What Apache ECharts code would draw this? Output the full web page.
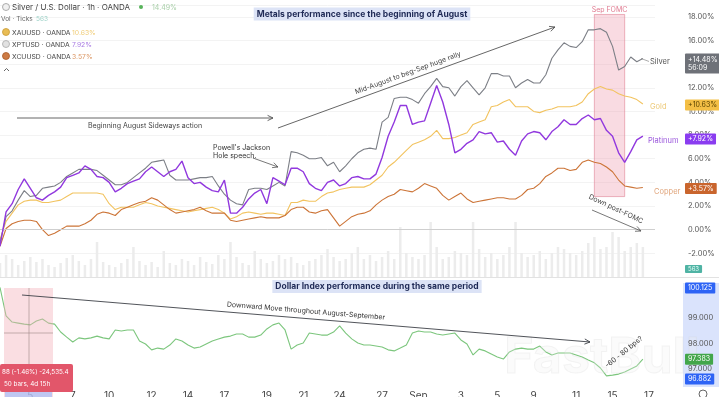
<!DOCTYPE html>
<html><head><meta charset="utf-8">
<script src="https://cdn.jsdelivr.net/npm/echarts@6/dist/echarts.min.js"></script>
<style>html,body{margin:0;padding:0;background:#fff}#c{width:719px;height:397px}</style>
</head><body><div id="c"></div>
<script>
// ---------- data ----------
const N = 109;
const categories = Array.from({length: N}, (_, i) => 'h' + i);
const tickLabels = ['5','7','10','12','14','17','19','21','24','27','Sep','3','5','9','11','15','17'];

const silver = [-1.1,1.1,1.6,2.5,3.3,2.8,2.9,3.5,3.6,3.7,
 4.0,4.5,4.8,5.1,5.1,5.1,5.0,4.6,4.2,3.8,
 3.8,4.0,4.4,4.8,5.2,5.7,5.8,5.9,4.6,4.2,
 4.2,4.2,4.3,4.4,4.4,4.5,3.7,3.0,2.5,2.2,
 2.1,3.4,3.5,3.5,3.4,3.7,4.0,3.7,6.6,6.5,
 6.3,6.0,6.0,6.1,5.4,5.7,4.9,5.4,6.0,6.5,
 6.8,6.9,6.8,9.1,9.5,11.1,11.2,11.2,11.0,10.7,
 11.5,12.1,12.8,12.1,12.0,11.3,12.1,12.6,12.0,11.4,
 12.0,13.2,13.2,13.0,13.0,12.0,12.4,12.7,12.4,12.4,
 13.1,14.5,15.2,15.8,15.5,15.4,15.9,16.9,16.9,17.0,
 16.7,15.5,13.5,13.8,14.6,14.2,14.48];

const platinum = [-1.4,1.5,2.2,3.4,4.3,3.5,2.7,2.5,2.9,3.2,
 3.6,4.4,4.6,4.8,5.4,5.1,4.5,4.4,4.0,3.2,
 3.5,3.9,4.1,4.3,4.9,5.3,4.9,4.5,4.9,5.1,
 5.8,4.4,3.9,4.0,3.6,3.3,3.2,4.2,1.4,1.4,
 1.9,2.6,3.1,3.4,2.2,4.4,4.1,3.8,5.2,5.2,
 4.9,3.9,3.5,3.3,4.0,4.2,3.7,3.9,4.4,4.5,
 4.3,4.3,4.7,6.1,7.9,9.1,10.5,10.5,8.9,9.1,
 9.2,10.7,12.2,10.8,8.9,6.5,6.8,7.3,7.6,8.3,
 8.1,8.2,7.4,7.5,6.8,6.3,7.5,8.1,8.3,8.2,
 7.6,8.3,8.7,9.3,8.9,8.9,9.4,9.7,9.3,9.4,
 8.4,7.9,6.5,5.7,6.6,7.6,7.92];

const gold = [-0.8,0.7,1.4,2.1,2.4,2.5,2.5,2.3,2.3,2.4,
 2.5,2.8,3.1,3.1,3.1,3.1,3.1,3.0,2.2,1.7,
 1.9,1.9,1.9,2.1,2.3,2.2,2.0,1.9,1.8,1.7,
 1.6,1.5,1.6,1.7,1.8,1.9,1.7,1.4,0.9,1.1,
 1.4,1.5,1.4,1.3,1.4,1.4,1.3,1.2,2.3,2.3,
 2.5,2.4,2.4,2.8,3.1,3.2,3.4,3.5,3.6,3.6,
 3.6,3.8,4.2,4.6,5.3,5.7,6.2,6.7,7.2,7.4,
 7.6,7.9,8.4,7.7,7.7,7.8,8.0,8.2,8.9,9.1,
 9.3,10.4,10.5,10.8,11.0,10.4,10.4,10.4,10.0,9.9,
 10.1,10.2,10.4,10.4,10.4,10.5,10.8,11.5,11.9,12.1,
 11.9,11.8,11.5,11.3,11.2,11.0,10.63];

const copper = [-1.4,0.1,0.5,0.7,0.8,0.8,0.7,0.0,-0.5,-0.3,
 0.0,0.3,0.3,0.3,0.5,0.8,1.3,1.5,1.4,1.2,
 1.7,1.9,2.1,2.3,2.4,2.7,2.5,2.1,1.7,1.4,
 1.5,1.6,1.7,1.9,1.6,1.4,1.4,1.4,0.8,0.7,
 0.8,0.9,1.0,1.1,1.0,1.0,1.0,1.2,1.7,1.9,
 1.9,1.5,1.4,1.6,1.7,1.0,0.3,0.7,1.1,1.3,
 1.4,1.6,2.1,2.5,2.8,3.0,3.4,3.3,3.2,3.5,
 3.9,3.7,3.5,2.9,2.5,2.8,3.1,2.6,2.3,2.4,
 2.5,2.6,2.7,2.7,2.6,2.6,2.9,3.4,3.5,3.9,
 4.5,4.8,5.2,5.2,5.0,5.1,5.7,5.9,5.7,5.6,
 5.3,4.9,4.2,3.7,3.6,3.5,3.57];

const volume = [14,22,18,12,16,20,15,18,12,10,
 14,19,22,16,12,18,35,15,12,10,
 14,18,30,16,12,15,10,26,14,12,
 18,16,12,20,15,13,22,18,35,20,
 14,12,26,18,14,16,22,18,20,14,
 12,16,18,22,28,20,16,18,24,30,
 18,22,16,20,26,18,50,24,20,18,
 22,55,30,18,20,26,24,22,55,28,
 20,24,18,22,30,55,24,20,22,26,
 18,24,30,28,24,22,26,34,40,28,
 30,45,40,26,30,34,30];

const dxy = [100.2,99.08,98.84,98.80,98.76,98.73,98.88,98.96,98.80,98.76,
 98.45,98.25,98.06,98.22,98.18,98.22,98.29,98.22,98.18,98.53,
 98.49,98.53,98.53,98.10,97.98,97.75,97.82,97.78,97.94,98.18,
 98.10,97.94,97.82,97.86,97.98,98.10,98.18,98.25,98.29,98.37,
 98.37,98.25,98.25,98.33,98.57,98.73,98.80,98.53,97.78,97.94,
 98.02,98.41,98.37,98.33,98.33,98.45,98.69,98.41,98.18,98.02,
 97.94,97.94,97.90,97.86,97.75,97.71,97.82,97.94,98.41,98.49,
 98.45,98.45,98.37,98.33,98.37,98.41,98.14,97.98,97.55,97.78,
 97.71,97.59,97.47,97.39,97.67,97.78,97.82,97.78,97.78,97.90,
 97.67,97.55,97.63,97.63,97.63,97.55,97.47,97.35,97.24,97.04,
 96.73,96.76,96.80,96.88,97.00,97.12,97.383];

const dxyTicks = [97, 98, 99];
const lastPct = ['+14.48%','+10.63%','+7.92%','+3.57%'];
const fomcRange = ['h98','h103'];

// ---------- chart ----------
const FONT = 'Inter, Roboto, "Noto Sans", sans-serif';
const labelAt = {};
tickLabels.forEach((t, k) => { labelAt[Math.round(5.4 + k * 6.38)] = t; });

const chart = echarts.init(document.getElementById('c'));
const C = {silver:'#7c7f86', gold:'#f2c35f', platinum:'#9138de', copper:'#cc7437', dxy:'#7cc67d'};

chart.setOption({
  animation: false,
  backgroundColor: '#fff',
  grid: [{left:0, right:64, top:5, bottom:120, outerBoundsMode:'none', containLabel:false},
         {left:0, right:64, top:280, bottom:11, outerBoundsMode:'none', containLabel:false}],
  xAxis: [
    {type:'category', gridIndex:0, data:categories, boundaryGap:false,
     axisLine:{show:false}, axisTick:{show:false}, axisLabel:{show:false}, splitLine:{show:false}},
    {type:'category', gridIndex:1, data:categories, boundaryGap:false,
     axisLine:{show:false}, axisTick:{show:false}, splitLine:{show:false},
     axisLabel:{interval:(i)=>labelAt[i]!==undefined, formatter:(v,i)=>labelAt[i]||'',
       color:'#444', fontSize:10, margin:5, fontFamily:FONT}}
  ],
  yAxis: [
    {type:'value', gridIndex:0, position:'right', min:-4, max:19, interval:2,
     axisLine:{show:false}, axisTick:{show:false},
     axisLabel:{margin:33, color:'#555', fontSize:7.5, fontFamily:FONT,
       formatter:v => (v>=-2 && v<=18 && v%2===0) ? v.toFixed(2)+'%' : ''},
     splitLine:{lineStyle:{color:'#f3f3f3', width:1}}},
    {type:'value', gridIndex:0, min:0, max:272, show:false},
    {type:'value', gridIndex:1, position:'right', min:96.333, max:100.49,
     axisLine:{show:false}, axisTick:{show:false}, splitLine:{show:false},
     axisLabel:{show:false}}
  ],
  series: [
    {type:'bar', xAxisIndex:0, yAxisIndex:1, data:volume, barWidth:2.5, silent:true,
     itemStyle:{color:'#ececec'}, z:1},
    {name:'Gold', type:'line', xAxisIndex:0, yAxisIndex:0, data:gold, showSymbol:false,
     lineStyle:{color:C.gold, width:1.1}, z:3},
    {name:'Copper', type:'line', xAxisIndex:0, yAxisIndex:0, data:copper, showSymbol:false,
     lineStyle:{color:C.copper, width:1.1}, z:3},
    {name:'Silver', type:'line', xAxisIndex:0, yAxisIndex:0, data:silver, showSymbol:false,
     lineStyle:{color:C.silver, width:1.1}, z:4,
     markLine:{silent:true, symbol:'none', label:{show:false},
       lineStyle:{color:'#cfcfcf', width:1, type:'solid'}, data:[{yAxis:0}]},
     markArea:{silent:true,
       itemStyle:{color:'rgba(238,160,178,0.38)', borderColor:'rgba(220,120,140,0.55)', borderWidth:1},
       label:{show:true, position:'top', distance:1, color:'#e07a90', fontSize:7, fontFamily:FONT},
       data:[[{name:'Sep FOMC', xAxis:fomcRange[0], yAxis:2.8}, {xAxis:fomcRange[1], yAxis:18.2}]]}},
    {name:'Platinum', type:'line', xAxisIndex:0, yAxisIndex:0, data:platinum, showSymbol:false,
     lineStyle:{color:C.platinum, width:1.4}, z:5},
    {name:'DXY', type:'line', xAxisIndex:1, yAxisIndex:2, data:dxy, showSymbol:false,
     lineStyle:{color:C.dxy, width:1.1}, z:3}
  ]
});

// ---------- annotations ----------
const g = [];
function txt(x, y, text, opt, z) {
  g.push({type:'text', x, y, silent:true, z:z||100,
    style:Object.assign({text, font:'8px '+FONT, fill:'#555', verticalAlign:'middle', align:'left'}, opt||{})});
}
function rtxt(x, y, text, rot, opt) {
  g.push({type:'text', x, y, rotation:rot, silent:true, z:100,
    style:Object.assign({text, font:'7px '+FONT, fill:'#333', verticalAlign:'middle', align:'center'}, opt||{})});
}
function line(x1, y1, x2, y2, color, w) {
  g.push({type:'line', silent:true, z:90, shape:{x1, y1, x2, y2}, style:{stroke:color, lineWidth:w||1}});
}
function arrow(x1, y1, x2, y2, color, w) {
  line(x1, y1, x2, y2, color, w);
  const a = Math.atan2(y2-y1, x2-x1), L = 6, s = 0.45;
  g.push({type:'polyline', silent:true, z:90,
    shape:{points:[[x2-L*Math.cos(a-s), y2-L*Math.sin(a-s)], [x2, y2], [x2-L*Math.cos(a+s), y2-L*Math.sin(a+s)]]},
    style:{stroke:color, lineWidth:w||1, fill:null}});
}
function rect(x, y, w, h, fill, z) {
  g.push({type:'rect', silent:true, z:z||50, shape:{x, y, width:w, height:h}, style:{fill}});
}
function circ(cx, cy, r, fill, stroke) {
  g.push({type:'circle', silent:true, z:100, shape:{cx, cy, r}, style:{fill, stroke:stroke||null, lineWidth:0.8}});
}
function box(x, yc, text, bg, fg, opt) {
  g.push({type:'text', x, y:yc, silent:true, z:110,
    style:Object.assign({text, font:'7px '+FONT, fill:fg, backgroundColor:bg, padding:[2,3,2,3],
      verticalAlign:'middle', align:'left', borderRadius:1}, opt||{})});
}

// header legend
circ(6, 7, 3.5, '#f0f0f0', '#999');
txt(12, 7.5, 'Silver / U.S. Dollar · 1h · OANDA', {fill:'#444', font:'8px '+FONT});
circ(141, 7, 2, '#57b35a');
txt(152, 7.5, '14.49%', {fill:'#a9cfa9', font:'7px '+FONT});
txt(1, 19.5, 'Vol · Ticks', {fill:'#666', font:'6.5px '+FONT});
txt(36, 19.5, '563', {fill:'#9fd3c9', font:'6.5px '+FONT});
circ(6, 32, 3.5, '#e9bd55', '#c99a35');
txt(12, 32.5, 'XAUUSD · OANDA', {fill:'#444', font:'6.8px '+FONT});
txt(72, 32.5, '10.63%', {fill:'#f0cd78', font:'6.8px '+FONT});
circ(6, 44, 3.5, '#e2e2e2', '#aaa');
txt(12, 44.5, 'XPTUSD · OANDA', {fill:'#444', font:'6.8px '+FONT});
txt(72, 44.5, '7.92%', {fill:'#a97be3', font:'6.8px '+FONT});
circ(6, 56, 3.5, '#cd7b45', '#a85a28');
txt(12, 56.5, 'XCUUSD · OANDA', {fill:'#444', font:'6.8px '+FONT});
txt(72, 56.5, '3.57%', {fill:'#dc9866', font:'6.8px '+FONT});
g.push({type:'polyline', silent:true, z:100, shape:{points:[[4,71],[6.5,68.5],[9,71]]}, style:{stroke:'#666', lineWidth:1, fill:null}});

// titles
txt(362, 14, 'Metals performance since the beginning of August',
  {align:'center', font:'bold 8.5px '+FONT, fill:'#1f2a56', backgroundColor:'#dce3f6', padding:[2,3,2,3]});
txt(377, 286.5, 'Dollar Index performance during the same period',
  {align:'center', font:'bold 8.5px '+FONT, fill:'#1f2a56', backgroundColor:'#dce3f6', padding:[2,3,2,3]});

// top annotations
arrow(17, 118, 273, 118, '#555', 0.9);
txt(145, 126, 'Beginning August Sideways action', {align:'center', font:'7px '+FONT, fill:'#444'});
arrow(278, 128, 555, 27, '#555', 0.9);
rtxt(408, 73, 'Mid-August to beg-Sep huge rally', Math.atan2(101, 277), {fill:'#444'});
txt(213, 148, "Powell's Jackson", {font:'7px '+FONT, fill:'#333'});
txt(213, 156, 'Hole speech.', {font:'7px '+FONT, fill:'#333'});
arrow(253, 158, 278, 167, '#555', 0.8);
rtxt(616, 209, 'Down post-FOMC', -0.44, {fill:'#444'});
arrow(592, 210, 641, 231, '#555', 0.8);

// right side series labels + last value boxes
const lastVals = [silver, gold, platinum, copper].map(a => a[a.length-1]);
const ys = lastVals.map(v => chart.convertToPixel({yAxisIndex:0}, v));
txt(650, ys[0]+3, 'Silver', {fill:'#555', font:'7.5px '+FONT});
txt(650, ys[1]+3, 'Gold', {fill:'#edc977', font:'7.5px '+FONT});
txt(648, ys[2]+5, 'Platinum', {fill:'#9b58dc', font:'7.5px '+FONT});
txt(654, ys[3]+4, 'Copper', {fill:'#e0a47a', font:'7.5px '+FONT});
line(641, ys[0], 649, ys[0]+3, '#888', 0.7);
box(685, ys[0]+5, lastPct[0] + '\n56:09', '#6e7178', '#fff', {lineHeight:8});
box(685, ys[1]+1, lastPct[1], '#f4bf45', '#5a4300');
box(685, ys[2]+3, lastPct[2], '#8a3cf0', '#fff');
box(685, ys[3]+1, lastPct[3], '#c9652d', '#fff');
box(685, 269, '563', '#4fb3a4', '#e8fff9', {font:'6px '+FONT, padding:[1,3,1,3]});

// separator
line(0, 277.5, 719, 277.5, '#e2e2e2', 1);

// bottom: measurement + annotations
rect(4, 288, 49, 109, 'rgba(244,176,186,0.42)', 5);
rect(5, 390, 47, 7, 'rgba(165,190,250,0.7)', 6);
line(29, 288, 29, 364, '#a08888', 0.6);
line(4, 333, 53, 333, '#a08888', 0.6);
rect(683, 283, 36, 104, 'rgba(188,204,250,0.55)', 5);
arrow(22, 295, 590, 342, '#3d4147', 0.9);
rtxt(306, 311, 'Downward Move throughout August-September', -0.083, {fill:'#333'});
rtxt(624, 352, '-60 - 80 bps?', 0.68, {fill:'#333'});
g.push({type:'rect', silent:true, z:110, shape:{x:0, y:364, width:73, height:28, r:2}, style:{fill:'#e2566a'}});
txt(2, 372, '88 (-1.46%) -24,535.4', {fill:'#fff', font:'6.3px '+FONT}, 120);
txt(4, 384, '50 bars, 4d 15h', {fill:'#fff', font:'6.3px '+FONT}, 120);
txt(602, 358, 'FastBull', {align:'center', font:'bold 50px '+FONT, fill:'rgba(240,240,240,0.25)',
  stroke:'rgba(205,205,205,0.22)', lineWidth:1}, 60);
// dollar axis labels
dxyTicks.forEach(v => {
  const y = chart.convertToPixel({yAxisIndex:2}, v);
  txt(688, y, v.toFixed(3), {fill:'#555', font:'7.5px '+FONT}, 70);
});
const yDxy = chart.convertToPixel({yAxisIndex:2}, dxy[dxy.length-1]);
box(685, 288, '100.125', '#2d63f5', '#fff');
box(685, yDxy, '97.383', '#43a64a', '#fff');
box(685, 379, '96.882', '#2d63f5', '#fff');
g.push({type:'circle', silent:true, z:100, shape:{cx:703, cy:394, r:4}, style:{fill:null, stroke:'#666', lineWidth:1}});

chart.setOption({graphic: g});
</script></body></html>
